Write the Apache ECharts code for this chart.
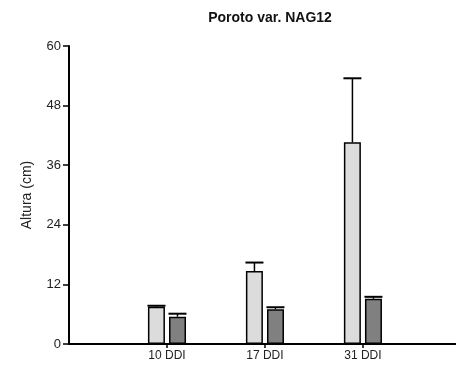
<!DOCTYPE html>
<html>
<head>
<meta charset="utf-8">
<title>Poroto var. NAG12</title>
<script src="https://cdn.jsdelivr.net/npm/echarts@6/dist/echarts.min.js"></script>
<style>
  html, body { margin: 0; padding: 0; background: #fff; }
  #main { width: 456px; height: 368px; }
</style>
</head>
<body>
<div id="main"></div>
<script>
// data
var categories = ['10 DDI', '17 DDI', '31 DDI'];
var catPos = [1, 2, 3];
var lightMean = [7.5, 14.7, 40.6];
var lightErr = [0.2, 1.7, 12.9];
var darkMean = [5.5, 7.0, 9.1];
var darkErr = [0.6, 0.4, 0.4];
var yTicks = [0, 12, 24, 36, 48, 60];

var myChart = echarts.init(document.getElementById('main'));

function pairs(vals){
    var out = [];
    for(var i = 0; i < vals.length; i++){
        out.push([catPos[i], vals[i]]);
    }
    return out;
}
function errPairs(vals, errs){
    var out = [];
    for(var i = 0; i < vals.length; i++){
        out.push([catPos[i], vals[i], vals[i] + errs[i]]);
    }
    return out;
}
// whisker above the bar, with a cap as wide as the bar
function errRender(offset){
    return function(params, api){
        var p0 = api.coord([api.value(0), api.value(1)]);
        var p1 = api.coord([api.value(0), api.value(2)]);
        var x = p0[0] + offset;
        var half = 9;
        var st = {stroke: '#000', lineWidth: 1.5};
        return {
            type: 'group',
            children: [
                {type: 'line', shape: {x1: x, y1: p0[1], x2: x, y2: p1[1]}, style: st},
                {type: 'line', shape: {x1: x - half, y1: p1[1], x2: x + half, y2: p1[1]}, style: {stroke: '#000', lineWidth: 2}}
            ]
        };
    };
}

var axisFont = {color: '#222', fontFamily: 'Liberation Sans', fontSize: 12};

myChart.setOption({
    animation: false,
    title: {
        text: 'Poroto var. NAG12',
        left: 265,
        top: 6,
        textAlign: 'center',
        textStyle: {fontFamily: 'Liberation Sans', fontSize: 14, fontWeight: 'bold', color: '#111'}
    },
    grid: {left: 69, right: 0, top: 46, bottom: 24, containLabel: false},
    xAxis: {
        type: 'value',
        min: 0,
        max: 3.95,
        interval: 1,
        splitLine: {show: false},
        axisLine: {show: true, lineStyle: {color: '#000', width: 2}},
        axisTick: {show: true, customValues: catPos, length: 4, lineStyle: {color: '#000', width: 1.5}},
        axisLabel: Object.assign({
            customValues: catPos,
            margin: 6,
            formatter: function(v){ return categories[catPos.indexOf(v)] || ''; }
        }, axisFont)
    },
    yAxis: {
        type: 'value',
        min: yTicks[0],
        max: yTicks[yTicks.length - 1],
        interval: 12,
        name: 'Altura (cm)',
        nameLocation: 'middle',
        nameGap: 35,
        nameTextStyle: {fontFamily: 'Liberation Sans', fontSize: 14, color: '#222'},
        splitLine: {show: false},
        axisLine: {show: true, lineStyle: {color: '#000', width: 2}},
        axisTick: {show: true, length: 6, lineStyle: {color: '#000', width: 1.5}},
        axisLabel: Object.assign({margin: 8}, axisFont, {fontSize: 13})
    },
    series: [{
        type: 'bar',
        data: pairs(lightMean),
        barWidth: 17,
        barGap: '24%',
        itemStyle: {color: '#dcdcdc', borderColor: '#000', borderWidth: 1.5}
    },{
        type: 'bar',
        data: pairs(darkMean),
        barWidth: 17,
        barGap: '24%',
        itemStyle: {color: '#808080', borderColor: '#000', borderWidth: 1.5}
    },{
        type: 'custom',
        data: errPairs(lightMean, lightErr),
        encode: {x: 0, y: [1, 2]},
        renderItem: errRender(-10.5),
        z: 3
    },{
        type: 'custom',
        data: errPairs(darkMean, darkErr),
        encode: {x: 0, y: [1, 2]},
        renderItem: errRender(10.5),
        z: 3
    }]
});
</script>
</body>
</html>
